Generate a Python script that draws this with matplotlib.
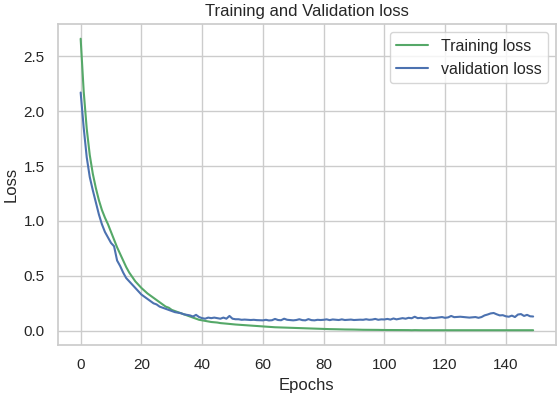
import matplotlib
matplotlib.use("Agg")
import matplotlib.pyplot as plt
import seaborn as sns

epochs = list(range(150))

train_loss = [
    2.66, 2.18, 1.84, 1.60, 1.43, 1.30, 1.19, 1.10, 1.03, 0.97,
    0.90, 0.83, 0.76, 0.70, 0.64, 0.58, 0.53, 0.49, 0.45, 0.42,
    0.39, 0.365, 0.34, 0.32, 0.30, 0.28, 0.26, 0.24, 0.22, 0.21,
    0.19, 0.18, 0.17, 0.16, 0.15, 0.14, 0.13, 0.12, 0.11, 0.10,
    0.095, 0.090, 0.085, 0.080, 0.078, 0.075, 0.070, 0.068, 0.065, 0.062,
    0.060, 0.057, 0.055, 0.052, 0.050, 0.048, 0.046, 0.044, 0.042, 0.040,
    0.038, 0.036, 0.035, 0.034, 0.032, 0.031, 0.030, 0.029, 0.028, 0.027,
    0.026, 0.025, 0.024, 0.023, 0.022, 0.021, 0.020, 0.019, 0.018, 0.017,
    0.016, 0.016, 0.015, 0.015, 0.014, 0.013, 0.013, 0.012, 0.012, 0.011,
    0.011, 0.010, 0.010, 0.009, 0.009, 0.009, 0.008, 0.008, 0.008, 0.007,
    0.007, 0.007, 0.007, 0.006, 0.007, 0.006, 0.006, 0.006, 0.006, 0.005,
    0.006, 0.005, 0.005, 0.005, 0.005, 0.005, 0.005, 0.004, 0.005, 0.004,
    0.004, 0.004, 0.004, 0.004, 0.004, 0.004, 0.004, 0.004, 0.004, 0.004,
    0.004, 0.004, 0.004, 0.004, 0.004, 0.004, 0.004, 0.004, 0.004, 0.004,
    0.004, 0.004, 0.004, 0.004, 0.004, 0.004, 0.004, 0.004, 0.004, 0.005,
]

val_loss = [
    2.17, 1.85, 1.58, 1.40, 1.28, 1.17, 1.06, 0.97, 0.90, 0.85,
    0.80, 0.77, 0.64, 0.59, 0.53, 0.48, 0.45, 0.42, 0.39, 0.36,
    0.33, 0.31, 0.29, 0.27, 0.25, 0.24, 0.22, 0.21, 0.20, 0.19,
    0.18, 0.17, 0.165, 0.16, 0.15, 0.145, 0.14, 0.13, 0.145, 0.125,
    0.115, 0.110, 0.120, 0.115, 0.120, 0.115, 0.110, 0.120, 0.110, 0.135,
    0.110, 0.105, 0.105, 0.100, 0.102, 0.100, 0.098, 0.100, 0.097, 0.096,
    0.095, 0.100, 0.094, 0.096, 0.108, 0.098, 0.096, 0.110, 0.100, 0.097,
    0.095, 0.098, 0.105, 0.097, 0.095, 0.106, 0.097, 0.095, 0.100, 0.098,
    0.100, 0.104, 0.097, 0.103, 0.100, 0.098, 0.104, 0.098, 0.100, 0.102,
    0.098, 0.100, 0.101, 0.100, 0.105, 0.100, 0.102, 0.108, 0.100, 0.104,
    0.103, 0.108, 0.102, 0.112, 0.104, 0.110, 0.115, 0.110, 0.118, 0.114,
    0.128, 0.115, 0.118, 0.112, 0.114, 0.120, 0.116, 0.118, 0.122, 0.125,
    0.118, 0.122, 0.135, 0.124, 0.126, 0.128, 0.125, 0.122, 0.120, 0.122,
    0.125, 0.118, 0.125, 0.140, 0.148, 0.158, 0.162, 0.150, 0.140, 0.142,
    0.132, 0.128, 0.138, 0.125, 0.148, 0.152, 0.135, 0.145, 0.132, 0.130,
]

sns.set_theme(style="whitegrid", color_codes=True)
plt.rcParams['font.family'] = ['Liberation Sans', 'DejaVu Sans']

fig = plt.figure(figsize=(5.58, 3.96), dpi=100)
ax = fig.add_axes([0.104, 0.129, 0.892, 0.81])
ax.plot(epochs, train_loss, 'g', label='Training loss')
ax.plot(epochs, val_loss, 'b', label='validation loss')
ax.set_title('Training and Validation loss', fontsize=12)
ax.set_xlabel('Epochs', fontsize=12)
ax.set_ylabel('Loss', fontsize=12)
ax.tick_params(labelsize=11)
ax.legend(fontsize=11.5, loc='upper right')
fig.savefig('out.png', dpi=100)
